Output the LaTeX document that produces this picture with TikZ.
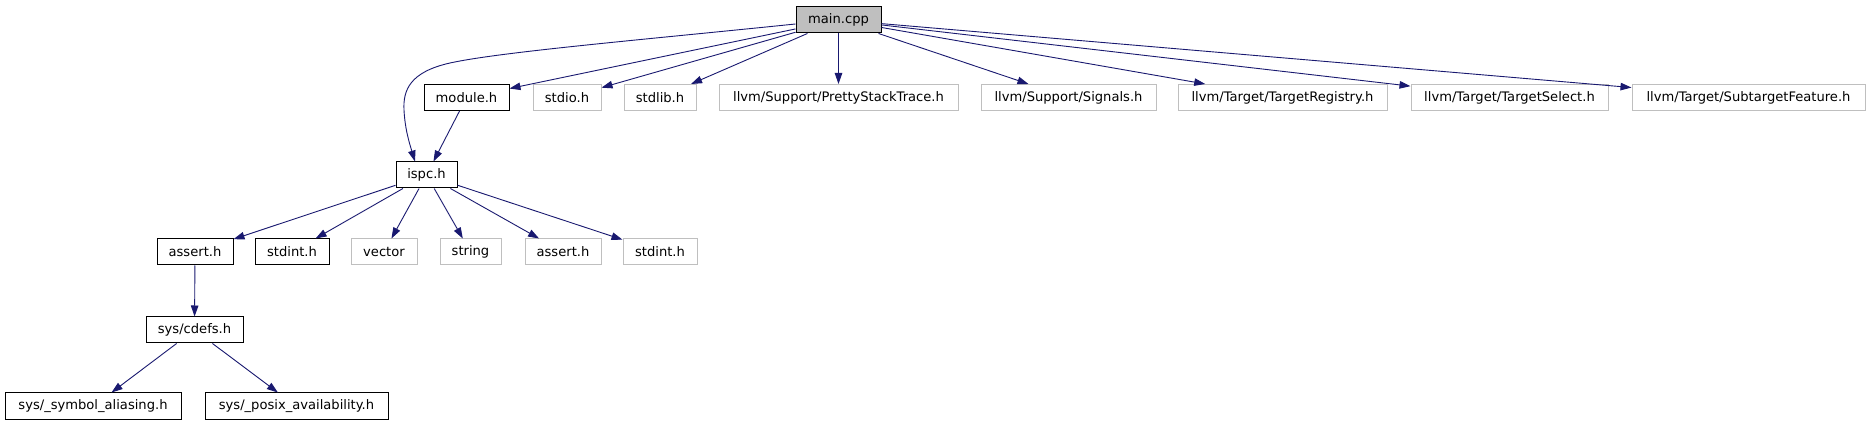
\documentclass[tikz,border=0pt]{standalone}
\usepackage{fontspec}
\setmainfont{DejaVu Sans}
\usetikzlibrary{arrows.meta}
\definecolor{edgeblue}{HTML}{191970}
\definecolor{lgray}{HTML}{BFBFBF}
\tikzset{
  box/.style={draw=black, line width=1pt, fill=white, rectangle, inner sep=0pt, minimum height=26pt, font=\fontsize{13.1pt}{15pt}\selectfont, text=black},
  gbox/.style={box, draw=lgray},
  rootbox/.style={box, fill=lgray},
  edge/.style={draw=edgeblue, line width=0.9pt, -{Triangle[length=11pt,width=7.5pt]}},
}
\begin{document}
\begin{tikzpicture}[x=1pt,y=-1pt]
\useasboundingbox[fill=white] (0,0) rectangle (1869,427);
% row 0
\node[rootbox, minimum width=85pt] (main) at (838.5,20) {main.cpp};
% row 1
\node[box, minimum width=85pt] (module) at (466.5,97.5) {module.h};
\node[gbox, minimum width=68pt] (stdio) at (567,97.5) {stdio.h};
\node[gbox, minimum width=72pt] (stdlib) at (660,97.5) {stdlib.h};
\node[gbox, minimum width=239pt] (pst) at (838.5,97.5) {llvm/Support/PrettyStackTrace.h};
\node[gbox, minimum width=175pt] (signals) at (1068.5,97.5) {llvm/Support/Signals.h};
\node[gbox, minimum width=209pt] (treg) at (1282.5,97.5) {llvm/Target/TargetRegistry.h};
\node[gbox, minimum width=197pt] (tsel) at (1509.5,97.5) {llvm/Target/TargetSelect.h};
\node[gbox, minimum width=233pt] (tfeat) at (1748.5,97.5) {llvm/Target/SubtargetFeature.h};
% row 2
\node[box, minimum width=61pt] (ispc) at (426.5,175) {ispc.h};
% row 3
\node[box, minimum width=76pt] (assertA) at (195,252) {assert.h};
\node[box, minimum width=74pt] (stdintA) at (292,252) {stdint.h};
\node[gbox, minimum width=66pt] (vector) at (384,252) {vector};
\node[gbox, minimum width=61pt] (string) at (470.5,252) {string};
\node[gbox, minimum width=76pt] (assertB) at (563,252) {assert.h};
\node[gbox, minimum width=74pt] (stdintB) at (660,252) {stdint.h};
% row 4
\node[box, minimum width=97pt] (cdefs) at (194.5,330) {sys/cdefs.h};
% row 5
\node[box, minimum width=176pt, minimum height=27pt] (symal) at (93,406.5) {sys/\_symbol\_aliasing.h};
\node[box, minimum width=183pt, minimum height=27pt] (posix) at (296.5,406.5) {sys/\_posix\_availability.h};
% edges from main
\draw[edge] ([yshift=-4pt]main.west) .. controls (640,40) and (500,52) .. (450,63)
  .. controls (410,72) and (403,90) .. (404,110)
  .. controls (405,130) and (410,145) .. ([xshift=-11.5pt]ispc.north);
\draw[edge] (main) -- (module);
\draw[edge] (main) -- (stdio);
\draw[edge] (main) -- (stdlib);
\draw[edge] (main) -- (pst);
\draw[edge] (main) -- (signals);
\draw[edge] (main) -- (treg);
\draw[edge] (main) -- (tsel);
\draw[edge] (main) -- (tfeat);
\draw[edge] (module) -- (ispc);
% edges from ispc
\draw[edge] (ispc) -- (assertA);
\draw[edge] (ispc) -- (stdintA);
\draw[edge] (ispc) -- (vector);
\draw[edge] (ispc) -- (string);
\draw[edge] (ispc) -- (assertB);
\draw[edge] (ispc) -- (stdintB);
\draw[edge] (assertA) -- (cdefs);
\draw[edge] (cdefs) -- (symal);
\draw[edge] (cdefs) -- (posix);
\end{tikzpicture}
\end{document}
